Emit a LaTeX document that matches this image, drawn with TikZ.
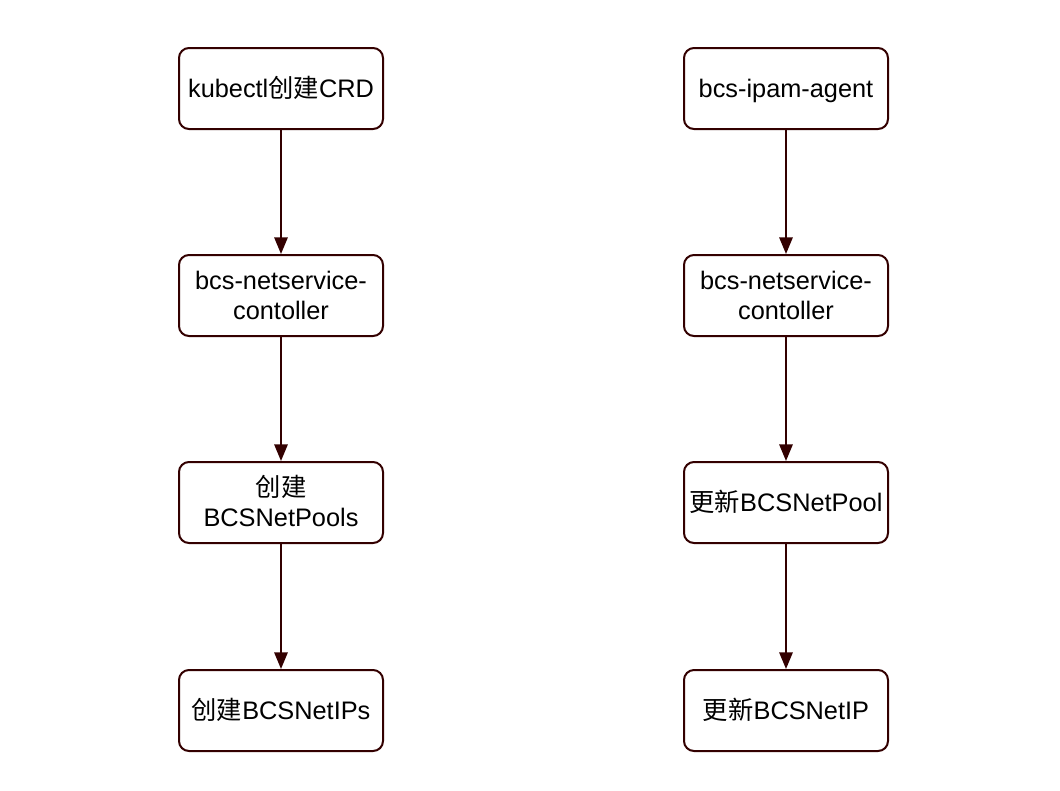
\documentclass[tikz,border=0pt]{standalone}
\usepackage{fontspec}
\setmainfont{Liberation Sans}
\newfontfamily\cjk{Noto Sans CJK SC}
\usetikzlibrary{arrows.meta}
\definecolor{boxline}{HTML}{330000}
\newcommand\boxstrut{\rule[-4.4pt]{0pt}{22.4pt}}
\tikzset{
  flowbox/.style={draw=boxline, line width=1.5pt, rounded corners=7.5pt,
    minimum width=153pt, minimum height=60.75pt, inner sep=0pt,
    align=center, font=\fontsize{19}{22.5}\selectfont,
    execute at begin node=\boxstrut},
  twoline/.style={text height=40.5pt, text depth=4.4pt}
}
\tikzset{
  flowarrow/.style={draw=boxline, line width=1.5pt,
    -{Triangle[length=12.5pt,width=10pt]}}
}
\begin{document}
\begin{tikzpicture}[x=0.75pt, y=-0.75pt]
\useasboundingbox (0,0) rectangle (1060,790);

% left column
\node[flowbox] (kubectl) at (281,88.5) {kubectl{\cjk 创建}CRD};
\node[flowbox, twoline] (ctrlL) at (281,295.5) {bcs-netservice-\\contoller};
\node[flowbox, twoline] (pools) at (281,502.5) {{\cjk 创建}\\BCSNetPools};
\node[flowbox] (ips) at (281,710.5) {{\cjk 创建}BCSNetIPs};

% right column
\node[flowbox] (agent) at (786,88.5) {bcs-ipam-agent};
\node[flowbox, twoline] (ctrlR) at (786,295.5) {bcs-netservice-\\contoller};
\node[flowbox] (pool) at (786,502.5) {{\cjk 更新}BCSNetPool};
\node[flowbox] (ip) at (786,710.5) {{\cjk 更新}BCSNetIP};

\draw[flowarrow] (kubectl) -- (ctrlL);
\draw[flowarrow] (ctrlL) -- (pools);
\draw[flowarrow] (pools) -- (ips);
\draw[flowarrow] (agent) -- (ctrlR);
\draw[flowarrow] (ctrlR) -- (pool);
\draw[flowarrow] (pool) -- (ip);
\end{tikzpicture}
\end{document}
